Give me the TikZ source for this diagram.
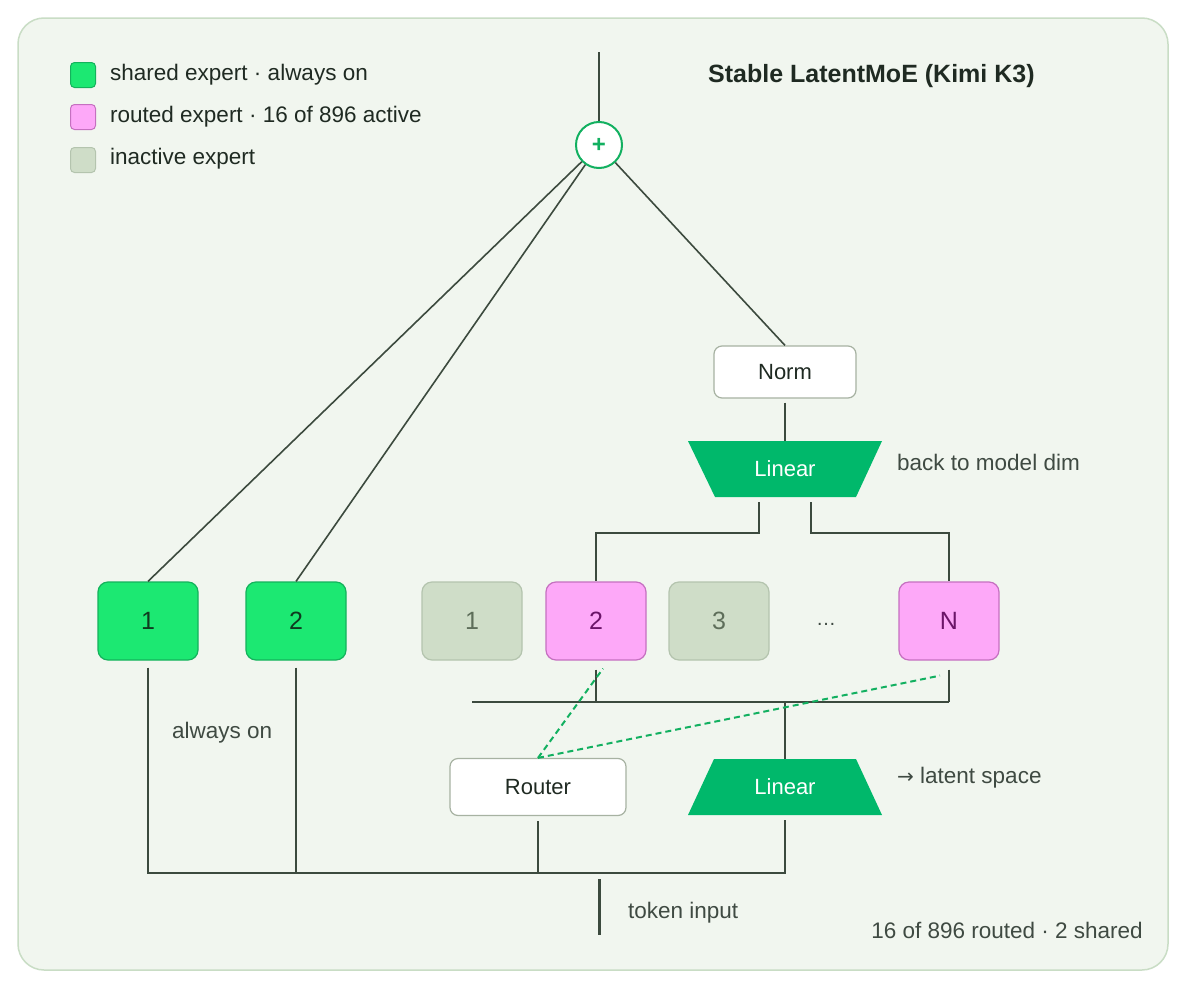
\documentclass[tikz,border=0pt]{standalone}
\usepackage{fontspec}
\setmainfont{Liberation Sans}
\newfontfamily\arrowfont{DejaVu Sans}
\usetikzlibrary{calc}
\definecolor{bgc}{HTML}{F1F6EF}
\definecolor{bgborder}{HTML}{C9DDC5}
\definecolor{linec}{HTML}{3C4A3E}
\definecolor{shfill}{HTML}{1CE872}
\definecolor{shstroke}{HTML}{14B25C}
\definecolor{shtext}{HTML}{0F3B1F}
\definecolor{pkfill}{HTML}{FDA8F8}
\definecolor{pkstroke}{HTML}{C570C0}
\definecolor{pktext}{HTML}{6B1568}
\definecolor{infill}{HTML}{CFDDC8}
\definecolor{instroke}{HTML}{B4C4AE}
\definecolor{intext}{HTML}{5E6E5A}
\definecolor{lingreen}{HTML}{00B86B}
\definecolor{boxstroke}{HTML}{A7B2A2}
\definecolor{plusgreen}{HTML}{12B060}
\definecolor{txtdark}{HTML}{1F2A22}
\definecolor{txtgray}{HTML}{3F4A42}
\begin{document}
\begin{tikzpicture}[x=1pt,y=-1pt,
  conn/.style={draw=linec, line width=1.6pt},
  dashconn/.style={draw=plusgreen, line width=2pt, dash pattern=on 6pt off 4pt},
  expert/.style={rounded corners=10pt, minimum width=100pt, minimum height=78pt, line width=1.2pt, font=\fontsize{25}{30}\selectfont, inner sep=0pt},
  shared/.style={expert, fill=shfill, draw=shstroke, text=shtext},
  routed/.style={expert, fill=pkfill, draw=pkstroke, text=pktext},
  inactive/.style={expert, fill=infill, draw=instroke, text=intext},
  whitebox/.style={rounded corners=8pt, fill=white, draw=boxstroke, line width=1.2pt, font=\fontsize{22}{26}\selectfont, text=txtdark, inner sep=0pt},
  linnode/.style={minimum width=141pt, minimum height=56pt, inner sep=0pt, text=white, font=\fontsize{22}{26}\selectfont},
  lbl/.style={anchor=west, font=\fontsize{22.5}{26}\selectfont, text=txtgray, inner sep=0pt},
  legtxt/.style={anchor=west, font=\fontsize{22.5}{26}\selectfont, text=txtdark, inner sep=0pt},
  legbox/.style={rounded corners=4pt, minimum size=25pt, inner sep=0pt, line width=1pt}
]
\useasboundingbox (0,0) rectangle (1200,988);
\fill[white] (0,0) rectangle (1200,988);
\draw[fill=bgc, draw=bgborder, line width=1.5pt, rounded corners=26pt] (18,18) rectangle (1168,970);

% legend
\node[legbox, fill=shfill, draw=shstroke] (lg1) at (83,75) {};
\node[legbox, fill=pkfill, draw=pkstroke] (lg2) at (83,117) {};
\node[legbox, fill=infill, draw=instroke] (lg3) at (83,160) {};
\node[legtxt] (lt1) at (110,75) {shared expert · always on};
\node[legtxt] (lt2) at (110,117) {routed expert · 16 of 896 active};
\node[legtxt] (lt3) at (110,159) {inactive expert};

% title
\node[anchor=west, font=\fontsize{25}{30}\selectfont\bfseries, text=txtdark, inner sep=0pt] (title) at (708,76) {Stable LatentMoE (Kimi K3)};

% plus
\coordinate (outtop) at (599,52);
\node[circle, minimum size=46pt, inner sep=0pt, fill=white, draw=plusgreen, line width=2pt, text=plusgreen, font=\fontsize{24}{24}\selectfont\bfseries] (plus) at (599,145) {+};

% experts
\node[shared] (s1) at (148,621) {1};
\node[shared] (s2) at (296,621) {2};
\node[inactive] (i1) at (472,621) {1};
\node[routed] (r2) at (596,621) {2};
\node[inactive] (i3) at (719,621) {3};
\node[font=\fontsize{20}{24}\selectfont, text=txtgray] (dots) at (826,624) {…};
\node[routed] (rN) at (949,621) {N};

% norm and linears
\node[whitebox, minimum width=142pt, minimum height=52pt] (norm) at (785,372) {Norm};
\fill[lingreen] (688,441) -- (882,441) -- (856,497) -- (715,497) -- cycle;
\node[linnode] (lin1) at (785,469) {Linear};
\fill[lingreen] (714,759) -- (856,759) -- (882,815) -- (688,815) -- cycle;
\node[linnode] (lin2) at (785,787) {Linear};
\node[whitebox, minimum width=176pt, minimum height=57pt] (router) at (538,787) {Router};

% labels
\node[lbl] (lb1) at (897,462) {back to model dim};
\node[lbl] (lb2) at (897,778) {{\arrowfont\fontsize{20}{24}\selectfont →} latent space};
\node[lbl] (lb3) at (172,733) {always on};
\node[lbl] (lb4) at (628,913) {token input};
\node[anchor=east, font=\fontsize{22.5}{26}\selectfont, text=txtgray, inner sep=0pt] (lb5) at (1143,930) {16 of 896 routed · 2 shared};

% coordinates for buses
\coordinate (busy) at (0,873);
\coordinate (bus2y) at (0,702);
\coordinate (tokb) at (599,935);
\coordinate (tokt) at (599,879);

% top connectors
\draw[conn] (outtop) -- (plus.north);
\draw[conn] (plus) -- (s1.north);
\draw[conn] (plus) -- (s2.north);
\draw[conn] (plus) -- (norm.north);
\draw[conn, shorten <=4pt] (norm.south) -- (lin1.north);
\draw[conn, shorten <=5pt] ($(lin1.south)+(-26,0)$) -- ++(0,36) -| (r2.north);
\draw[conn, shorten <=5pt] ($(lin1.south)+(26,0)$) -- ++(0,36) -| (rN.north);

% below experts
\draw[conn, shorten <=9pt] (r2.south) -- (r2.south |- bus2y);
\draw[conn, shorten <=9pt] (rN.south) -- (rN.south |- bus2y);
\draw[conn] (i1.south |- bus2y) -- (rN.south |- bus2y);
\draw[conn] (lin2.north |- bus2y) -- (lin2.north);

% dashed routing
\draw[dashconn] (router.north) -- ($(r2.south)+(7,8)$);
\draw[dashconn] (router.north) -- ($(rN.south)+(-9,15)$);

% bottom bus
\draw[conn, shorten <=7pt, shorten >=5pt] (s1.south) -- (s1.south |- busy) -| (lin2.south);
\draw[conn, shorten <=7pt] (s2.south) -- (s2.south |- busy);
\draw[conn, shorten <=5pt] (router.south) -- (router.south |- busy);
\draw[draw=linec, line width=3pt] (tokt) -- (tokb);
\end{tikzpicture}
\end{document}
